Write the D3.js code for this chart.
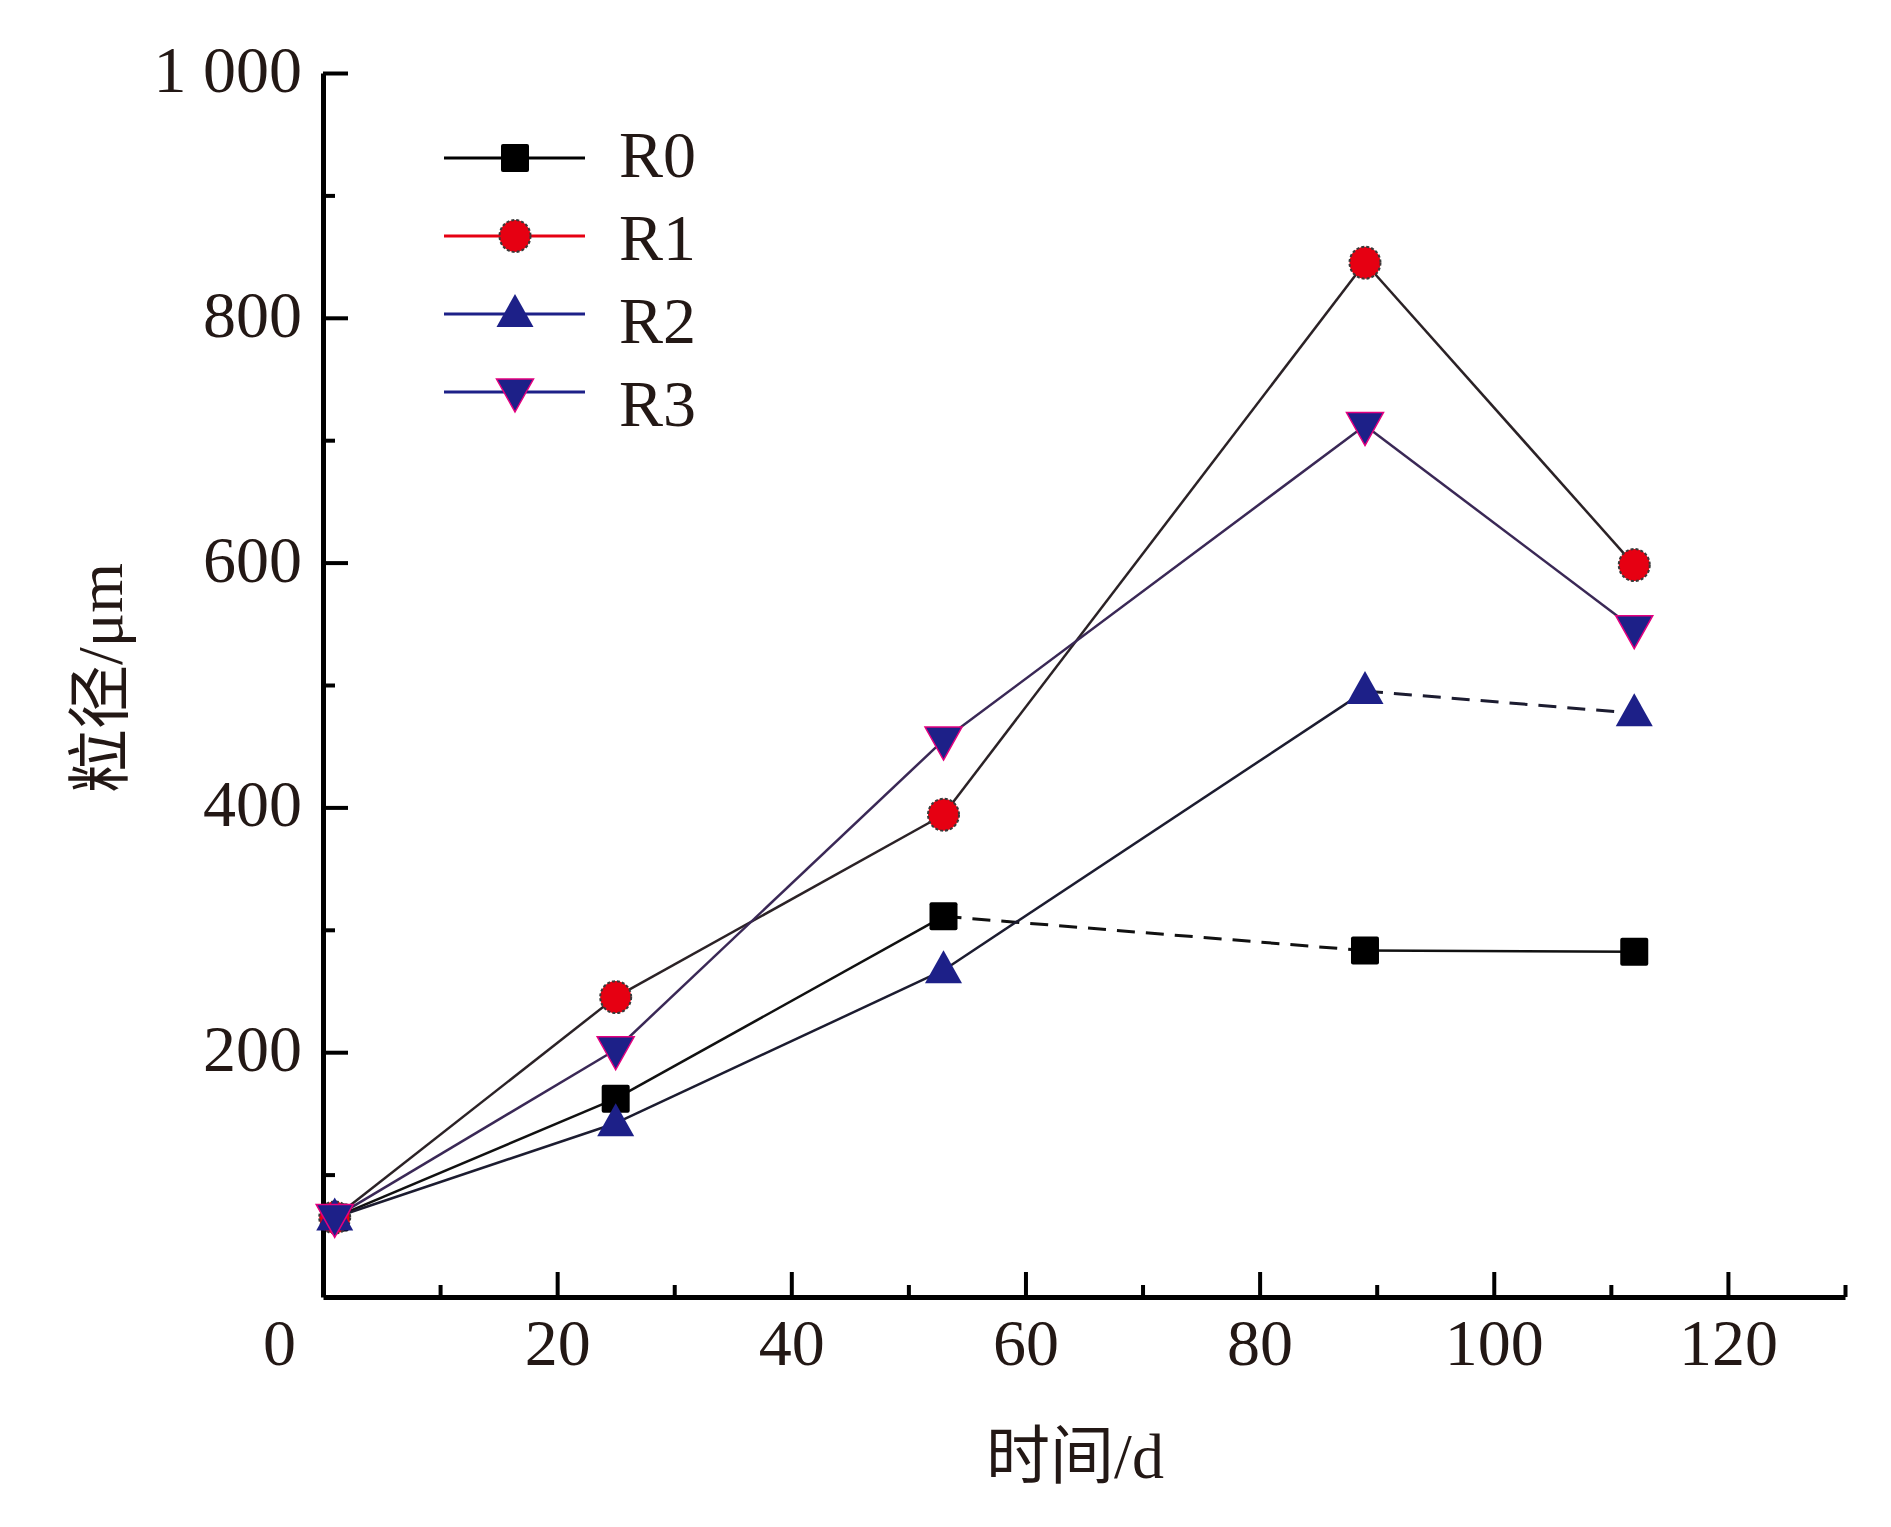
<!DOCTYPE html>
<html lang="zh">
<head>
	<meta charset="UTF-8">
	<title>粒径随时间变化</title>
	<script type="text/javascript" src="https://d3js.org/d3.v7.min.js"></script>
	<style>
		body { margin: 0; background: #fff; }
		text { font-family: "Liberation Serif", "Noto Sans CJK SC", serif; fill: #231815; }
	</style>
</head>
<body>
	<svg id="chart" width="1891" height="1527"></svg>

	<script>
		// data
		var days = [1, 25, 53, 89, 112];
		var seriesNames = ["R0", "R1", "R2", "R3"];
		var r0 = [65, 162, 311, 283, 282];
		var r1 = [65, 245, 394, 845, 598];
		var r2 = [65, 142, 267, 495, 477];
		var r3 = [65, 202, 455, 712, 546];
		// index of the segment start that is dashed, per series
		var dashedSegs = [[2], [], [3], []];

		var xMajor = [0, 20, 40, 60, 80, 100, 120];
		var xMinor = [10, 30, 50, 70, 90, 110, 130];
		var yMajor = [200, 400, 600, 800, 1000];
		var yMinor = [100, 300, 500, 700, 900];
		var yTickLabels = ["200", "400", "600", "800", "1 000"];

		var xTitle = "时间/d";
		var yTitle = "粒径/μm";

		var styles = [
			{shape: "square", fill: "#000", edge: "#000", line: "#111", legendLine: "#000"},
			{shape: "circle", fill: "#e60012", edge: "#3a3a3a", line: "#2b2226", legendLine: "#e60012"},
			{shape: "up", fill: "#1d2088", edge: "#1d2088", line: "#1c1c30", legendLine: "#1d2088"},
			{shape: "down", fill: "#1d2088", edge: "#e4007f", line: "#3a2856", legendLine: "#1d2088"}
		];

		var svg = d3.select("#chart");
		var x = d3.scaleLinear().domain([0, 130]).range([323, 1845]);
		var y = d3.scaleLinear().domain([0, 1000]).range([1297, 73]);

		var values = [r0, r1, r2, r3];

		// axes
		var xAxis = svg.append("g").attr("transform", "translate(0," + y(0) + ")")
			.call(d3.axisBottom(x).tickValues(xMajor).tickSizeInner(-25).tickSizeOuter(0).tickPadding(21));
		svg.append("g").attr("transform", "translate(0," + y(0) + ")")
			.call(d3.axisBottom(x).tickValues(xMinor).tickSizeInner(-12).tickSizeOuter(0).tickFormat(""))
			.select(".domain").remove();
		var yAxis = svg.append("g").attr("transform", "translate(" + x(0) + ",0)")
			.call(d3.axisLeft(y).tickValues(yMajor).tickSizeInner(-25).tickSizeOuter(0).tickPadding(21)
				.tickFormat(function(d, i) { return yTickLabels[i]; }));
		svg.append("g").attr("transform", "translate(" + x(0) + ",0)")
			.call(d3.axisLeft(y).tickValues(yMinor).tickSizeInner(-12).tickSizeOuter(0).tickFormat(""))
			.select(".domain").remove();

		svg.selectAll(".domain").attr("stroke", "#000").attr("stroke-width", 5);
		svg.selectAll(".tick line").attr("stroke", "#000").attr("stroke-width", 4);
		svg.selectAll(".tick text").style("font-size", "66px").attr("fill", "#231815")
			.style("font-family", "'Liberation Serif', serif");
		// the origin label sits left of the y axis
		xAxis.selectAll(".tick").filter(function(d) { return d === 0; }).select("text").attr("dx", -44);
		yAxis.selectAll(".tick text").attr("dy", "0.28em");

		// axis titles
		svg.append("text").attr("x", 1075).attr("y", 1478).attr("text-anchor", "middle")
			.style("font-size", "64px").text(xTitle);
		svg.append("text").attr("transform", "translate(100,678) rotate(-90)").attr("text-anchor", "middle")
			.attr("dy", "0.35em").style("font-size", "64px").text(yTitle);

		function drawMarker(g, st, cx, cy) {
			if (st.shape === "square") {
				g.append("rect").attr("x", cx - 14).attr("y", cy - 14).attr("width", 28).attr("height", 28)
					.attr("rx", 2).attr("fill", st.fill);
			} else if (st.shape === "circle") {
				g.append("ellipse").attr("cx", cx).attr("cy", cy).attr("rx", 15.5).attr("ry", 16)
					.attr("fill", st.fill).attr("stroke", st.edge).attr("stroke-width", 2)
					.attr("stroke-dasharray", "3,2");
			} else if (st.shape === "up") {
				g.append("path").attr("d", "M" + cx + "," + (cy - 20) + "L" + (cx + 18.5) + "," + (cy + 13) +
					"L" + (cx - 18.5) + "," + (cy + 13) + "Z").attr("fill", st.fill);
			} else {
				g.append("path").attr("d", "M" + cx + "," + (cy + 20) + "L" + (cx + 18.5) + "," + (cy - 13) +
					"L" + (cx - 18.5) + "," + (cy - 13) + "Z").attr("fill", st.fill)
					.attr("stroke", st.edge).attr("stroke-width", 1.5);
			}
		}

		// lines, drawn segment by segment so some can be dashed
		values.forEach(function(vals, s) {
			var g = svg.append("g");
			for (var i = 0; i < vals.length - 1; i++) {
				var dashed = dashedSegs[s].indexOf(i) >= 0;
				g.append("line")
					.attr("x1", x(days[i])).attr("y1", y(vals[i]))
					.attr("x2", x(days[i + 1])).attr("y2", y(vals[i + 1]))
					.attr("stroke", styles[s].line)
					.attr("stroke-width", dashed ? 3 : 2.5)
					.attr("stroke-dasharray", dashed ? "18,11" : null);
			}
		});

		// markers
		values.forEach(function(vals, s) {
			var g = svg.append("g");
			vals.forEach(function(v, i) { drawMarker(g, styles[s], x(days[i]), y(v)); });
		});

		// legend: symbol rows and labels are spaced slightly differently in the figure
		var legend = svg.append("g");
		seriesNames.forEach(function(name, s) {
			var ly = 158 + s * 78;
			var ty = 155 + s * 83;
			legend.append("line").attr("x1", 444).attr("x2", 585).attr("y1", ly).attr("y2", ly)
				.attr("stroke", styles[s].legendLine).attr("stroke-width", 3);
			drawMarker(legend, styles[s], 515, ly);
			legend.append("text").attr("x", 619).attr("y", ty).attr("dy", "0.33em")
				.style("font-size", "66px").text(name);
		});
	</script>
</body>
</html>
